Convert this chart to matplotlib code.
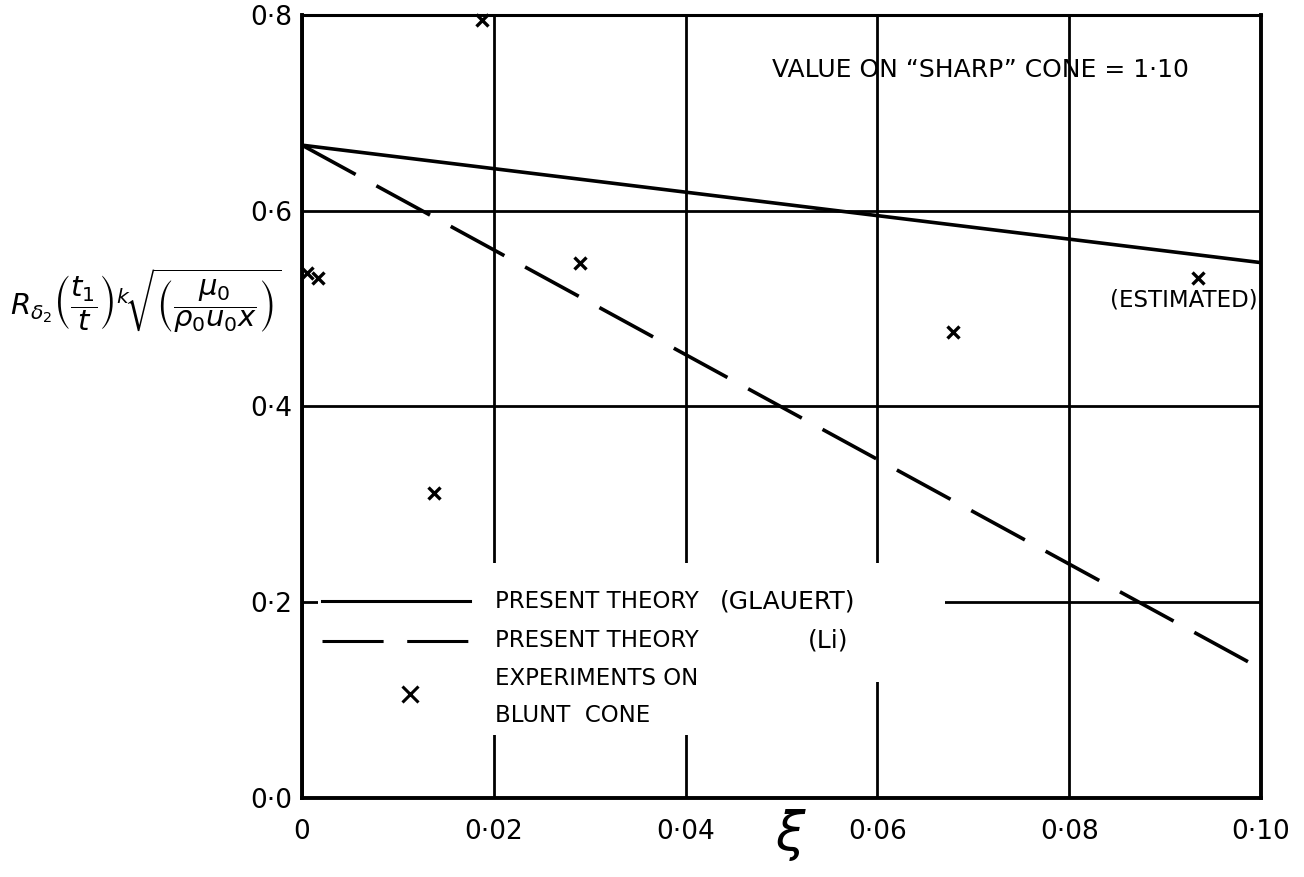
import matplotlib
matplotlib.use("Agg")
import matplotlib.pyplot as plt
from matplotlib.patches import Rectangle

plt.rcParams['font.family'] = ['DejaVu Sans']
plt.rcParams['mathtext.fontset'] = 'dejavusans'
plt.rcParams['lines.scale_dashes'] = False

# Theory curves (straight lines in xi)
theory_xi = [0.0, 0.10]
glauert_vals = [0.667, 0.547]
li_vals = [0.667, 0.132]

# Experiments on blunt cone
exp_xi = [0.0005, 0.0017, 0.0138, 0.0188, 0.0290, 0.0679, 0.0934]
exp_vals = [0.536, 0.531, 0.312, 0.795, 0.547, 0.476, 0.531]

x_ticks = [0.0, 0.02, 0.04, 0.06, 0.08, 0.10]
x_tick_labels = ['0', '0·02', '0·04', '0·06', '0·08', '0·10']
y_ticks = [0.0, 0.2, 0.4, 0.6, 0.8]
y_tick_labels = ['0·0', '0·2', '0·4', '0·6', '0·8']

fig = plt.figure(figsize=(13.04, 8.77), dpi=100)
ax = fig.add_axes([0.2316, 0.0901, 0.7354, 0.8928])

ax.set_xlim(0, 0.10)
ax.set_ylim(0, 0.8)
ax.set_xticks(x_ticks)
ax.set_xticklabels(x_tick_labels)
ax.set_yticks(y_ticks)
ax.set_yticklabels(y_tick_labels)
ax.tick_params(length=0, labelsize=19)
ax.tick_params(axis='x', pad=15)
ax.tick_params(axis='y', pad=7)

ax.set_axisbelow(True)
ax.grid(True, color='black', linewidth=2.0)
for side in ['left', 'bottom', 'right']:
    ax.spines[side].set_linewidth(2.8)
ax.spines['top'].set_linewidth(2.2)

# white area behind the key
ax.add_patch(Rectangle((0.0167, 0.148), 0.6538, 0.152, transform=ax.transAxes,
                       facecolor='white', edgecolor='none', zorder=1))
ax.add_patch(Rectangle((0.0167, 0.080), 0.566, 0.070, transform=ax.transAxes,
                       facecolor='white', edgecolor='none', zorder=1))

ax.plot(theory_xi, glauert_vals, color='black', linewidth=2.6, zorder=3)
ax.plot(theory_xi, li_vals, color='black', linewidth=2.6, dashes=(44, 17), zorder=3)
ax.plot(exp_xi, exp_vals, linestyle='none', marker='x', color='black',
        markersize=9, markeredgewidth=2.4, zorder=4, clip_on=False)

# key
key_fs = 16.5
ax.plot([0.021, 0.175], [0.251, 0.251], transform=ax.transAxes, color='black',
        linewidth=2.2, zorder=3)
ax.plot([0.021, 0.175], [0.201, 0.201], transform=ax.transAxes, color='black',
        linewidth=2.2, dashes=(44, 17), zorder=3)
ax.plot([0.1126], [0.133], transform=ax.transAxes, marker='x', color='black',
        markersize=11, markeredgewidth=2.2, zorder=3)
ax.text(0.201, 0.251, 'PRESENT THEORY', transform=ax.transAxes,
        fontsize=key_fs, va='center', ha='left', zorder=3)
ax.text(0.436, 0.251, '(GLAUERT)', transform=ax.transAxes,
        fontsize=key_fs + 1.5, va='center', ha='left', zorder=3)
ax.text(0.201, 0.201, 'PRESENT THEORY', transform=ax.transAxes,
        fontsize=key_fs, va='center', ha='left', zorder=3)
ax.text(0.528, 0.201, '(Li)', transform=ax.transAxes,
        fontsize=key_fs + 1.5, va='center', ha='left', zorder=3)
ax.text(0.201, 0.153, 'EXPERIMENTS ON', transform=ax.transAxes,
        fontsize=key_fs, va='center', ha='left', zorder=3)
ax.text(0.201, 0.105, 'BLUNT  CONE', transform=ax.transAxes,
        fontsize=key_fs, va='center', ha='left', zorder=3)

ax.text(0.0707, 0.744, 'VALUE ON \u201cSHARP\u201d CONE = 1·10',
        fontsize=18, ha='center', va='center')
ax.text(0.0920, 0.509, '(ESTIMATED)', fontsize=key_fs, ha='center', va='center')

# axis titles
ax.set_xlabel('ξ', fontsize=38, fontstyle='italic')
ax.xaxis.set_label_coords(0.509, -0.014)
fig.text(0.112, 0.656,
         r'$R_{\delta_2}\left(\dfrac{t_1}{t}\right)^{k}\!\sqrt{\left(\dfrac{\mu_0}{\rho_0 u_0 x}\right)}$',
         fontsize=21, ha='center', va='center')

fig.savefig('out.png', dpi=100, facecolor='white')
